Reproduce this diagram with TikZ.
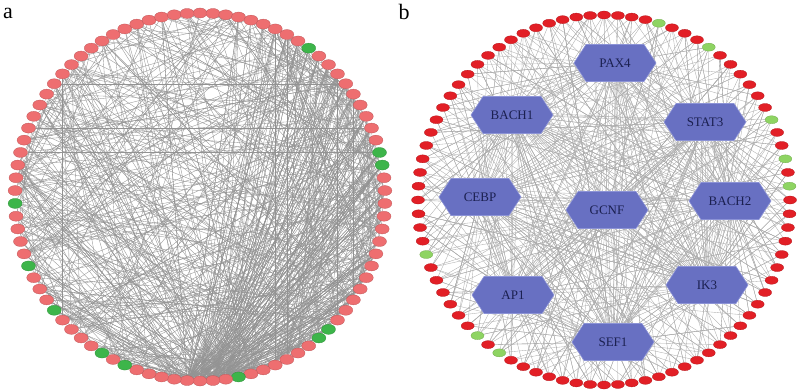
\documentclass[tikz,border=0pt]{standalone}
\usepackage{fontspec}
\setmainfont{Liberation Serif}
\usetikzlibrary{shapes.geometric,shapes.symbols,backgrounds}
\definecolor{pinkred}{HTML}{EE6E70}
\definecolor{darkgreen}{HTML}{3DB54A}
\definecolor{brightred}{HTML}{E21F26}
\definecolor{lightgreen}{HTML}{8ED462}
\definecolor{hexblue}{HTML}{6870C2}
\definecolor{hexline}{HTML}{8C93D6}
\definecolor{navytext}{HTML}{1B2050}
\tikzset{
 gene/.style={ellipse,draw=#1!80!black,fill=#1,line width=0.3pt,inner sep=0pt,
             minimum width=14pt,minimum height=10pt},
 smallgene/.style={ellipse,draw=#1!80!black,fill=#1,line width=0.3pt,inner sep=0pt,
             minimum width=13pt,minimum height=8pt},
 tf/.style={signal,signal to=east and west,signal pointer angle=114,draw=hexline,
             fill=hexblue,line width=0.6pt,minimum width=82pt,minimum height=37pt,
             inner sep=0pt,font=\fontsize{13}{13}\selectfont,text=navytext},
 linka/.style={draw=gray!85,line width=0.35pt},
 linkb/.style={draw=gray!65,line width=0.35pt},
 panel/.style={font=\fontsize{22}{22}\selectfont}
}

\begin{document}
\begin{tikzpicture}[x=1pt,y=-1pt]
\useasboundingbox (0,0) rectangle (800,391);
\node[panel] (la) at (8,13) {a};
\node[panel] (lb) at (404,12) {b};

% panel a: ring of 90 genes
\foreach \k in {1,...,90}{
  \pgfmathsetmacro\ang{90-4*(\k-1)}
  \pgfmathtruncatemacro\isg{(\k==10)||(\k==20)||(\k==21)||(\k==35)||(\k==36)||(\k==43)||(\k==52)||(\k==54)||(\k==59)||(\k==63)||(\k==68)}
  \ifnum\isg=1 \def\col{darkgreen}\else\def\col{pinkred}\fi
  \node[gene=\col] (a\k) at ({200+185*cos(\ang)},{197-184*sin(\ang)}) {};
}

% panel b: ring of 84 genes
\foreach \k in {1,...,84}{
  \pgfmathsetmacro\ang{90-360/84*(\k-1)}
  \pgfmathtruncatemacro\isg{(\k==5)||(\k==9)||(\k==16)||(\k==19)||(\k==21)||(\k==51)||(\k==53)||(\k==60)}
  \ifnum\isg=1 \def\col{lightgreen}\else\def\col{brightred}\fi
  \node[smallgene=\col] (b\k) at ({604+186*cos(\ang)},{200-185*sin(\ang)}) {};
}

% transcription factors
\foreach \n/\lab/\x/\y in {1/PAX4/615/63,2/BACH1/512/115,3/STAT3/705/122,
  4/CEBP/480/197,5/GCNF/607/210,6/BACH2/730/201,7/AP1/513/295,8/IK3/707/285,9/SEF1/613/342}
  \node[tf] (t\n) at (\x,\y) {\lab};

\begin{scope}[on background layer]
\pgfmathsetseed{11}
% fan from the bottom hub
\foreach \h in {44,45,46,47}{
  \foreach \n in {1,...,45}{
    \pgfmathtruncatemacro\j{random(4,40)}
    \draw[linka] (a\h) -- (a\j);
  }
  \foreach \n in {1,...,15}{
    \pgfmathtruncatemacro\j{random(52,88)}
    \draw[linka] (a\h) -- (a\j);
  }
}
% right side
\foreach \n in {1,...,200}{
  \pgfmathtruncatemacro\i{random(8,42)}
  \pgfmathtruncatemacro\j{mod(\i+random(6,80)-1,90)+1}
  \draw[linka] (a\i) -- (a\j);
}
% chords
\foreach \n in {1,...,220}{
  \pgfmathtruncatemacro\i{random(1,90)}
  \pgfmathtruncatemacro\j{mod(\i+random(8,82)-1,90)+1}
  \draw[linka] (a\i) -- (a\j);
}
% panel b links
\foreach \k in {1,...,84}{
  \foreach \n in {1,...,7}{
    \pgfmathtruncatemacro\r{random(1,9)}
    \draw[linkb] (b\k) -- (t\r);
  }
}
\foreach \i in {1,...,8}{
  \pgfmathtruncatemacro\s{\i+1}
  \foreach \j in {\s,...,9}
    \draw[linkb] (t\i) -- (t\j);
}
\end{scope}
\end{tikzpicture}
\end{document}
